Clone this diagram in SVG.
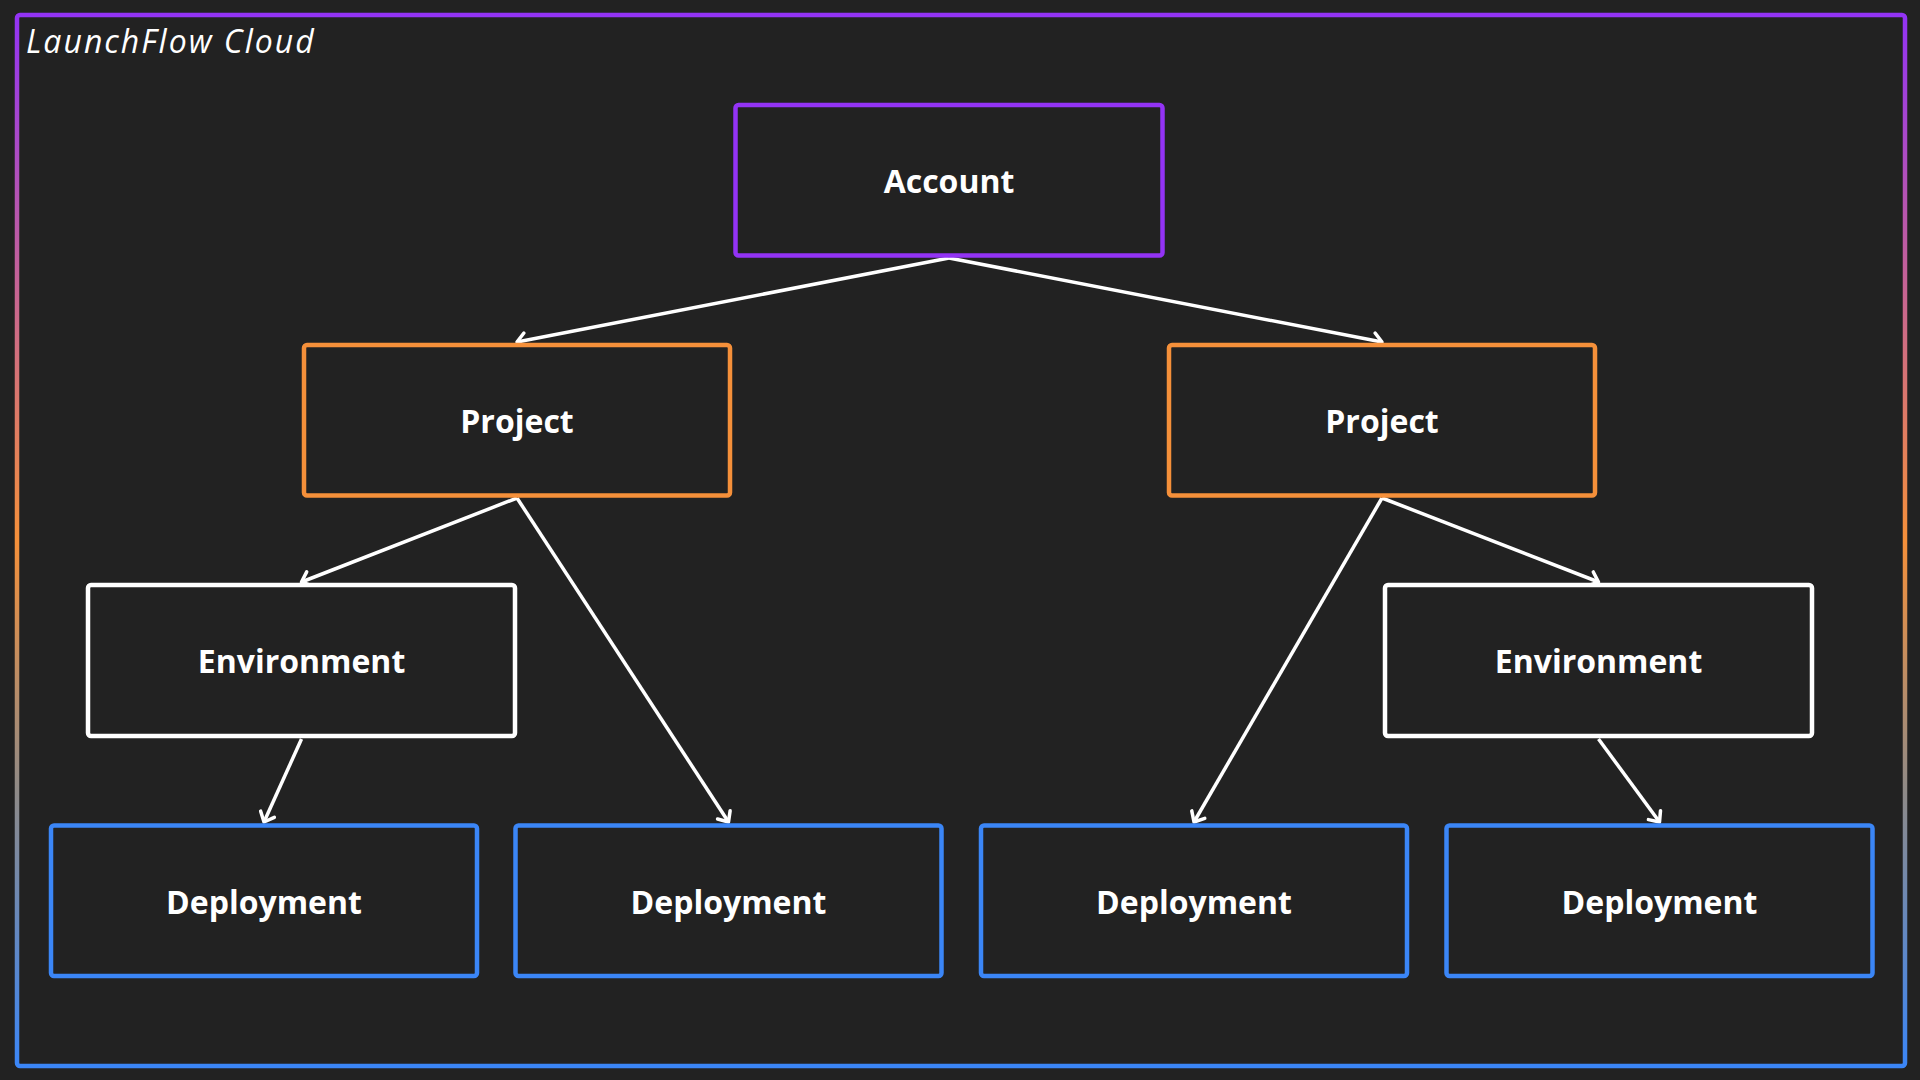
<svg xmlns="http://www.w3.org/2000/svg" width="1920" height="1080" viewBox="0 0 1920 1080">
  <defs>
    <linearGradient id="frameGrad" gradientUnits="userSpaceOnUse" x1="0" y1="15" x2="0" y2="1066">
      <stop offset="0" stop-color="#9333f5"/>
      <stop offset="0.5" stop-color="#f5903a"/>
      <stop offset="0.74" stop-color="#8e8a88"/>
      <stop offset="1" stop-color="#3b86f7"/>
    </linearGradient>
    <marker id="arrow" markerUnits="userSpaceOnUse" markerWidth="24" markerHeight="24" viewBox="-12 -12 24 24" refX="0" refY="0" orient="auto">
      <path d="M -8.5 -7.5 L 0 0 L -8.5 7.5" fill="none" stroke="#ffffff" stroke-width="3.5" stroke-linecap="round" stroke-linejoin="round"/>
    </marker>
  </defs>
  <style>
    .box { fill: #222222; stroke-width: 4.5; }
    .purple { stroke: #9333f5; }
    .orange { stroke: #f5903a; }
    .white { stroke: #ffffff; }
    .blue { stroke: #3b86f7; }
    .label { font-family: "Open Sans", "Liberation Sans", sans-serif; font-weight: 700; font-size: 32px; fill: #ffffff; text-anchor: middle; }
    .title { font-family: "Open Sans", "Liberation Sans", sans-serif; font-style: italic; font-weight: 400; font-size: 32px; letter-spacing: 2px; fill: #ffffff; }
    .conn { stroke: #ffffff; stroke-width: 3.5; fill: none; marker-end: url(#arrow); }
  </style>
  <rect x="0" y="0" width="1920" height="1080" fill="#222222"/>
  <g id="frame">
    <rect x="17" y="15" width="1888" height="1051" rx="3" fill="none" stroke="url(#frameGrad)" stroke-width="4.5"/>
    <text class="title" x="26" y="53">LaunchFlow Cloud</text>
  </g>
  <g id="connectors">
    <line class="conn" x1="949" y1="258" x2="517" y2="342"/>
    <line class="conn" x1="949" y1="258" x2="1382" y2="342"/>
    <line class="conn" x1="517" y1="498" x2="301.5" y2="582"/>
    <line class="conn" x1="517" y1="498" x2="728.5" y2="822"/>
    <line class="conn" x1="1382" y1="498" x2="1194" y2="822"/>
    <line class="conn" x1="1382" y1="498" x2="1598.5" y2="582"/>
    <line class="conn" x1="301.5" y1="739" x2="264" y2="822"/>
    <line class="conn" x1="1598.5" y1="739" x2="1659.5" y2="822"/>
  </g>
  <g id="account">
    <rect class="box purple" x="735.5" y="105" width="427" height="150.5" rx="3"/>
    <text class="label" x="949" y="193">Account</text>
  </g>
  <g id="project-left">
    <rect class="box orange" x="304" y="345" width="426" height="150.5" rx="3"/>
    <text class="label" x="517" y="433">Project</text>
  </g>
  <g id="project-right">
    <rect class="box orange" x="1169" y="345" width="426" height="150.5" rx="3"/>
    <text class="label" x="1382" y="433">Project</text>
  </g>
  <g id="environment-left">
    <rect class="box white" x="88" y="585" width="427" height="151" rx="3"/>
    <text class="label" x="301.5" y="673">Environment</text>
  </g>
  <g id="environment-right">
    <rect class="box white" x="1385" y="585" width="427" height="151" rx="3"/>
    <text class="label" x="1598.5" y="673">Environment</text>
  </g>
  <g id="deployment-1">
    <rect class="box blue" x="51" y="825.5" width="426" height="150.5" rx="3"/>
    <text class="label" x="264" y="914">Deployment</text>
  </g>
  <g id="deployment-2">
    <rect class="box blue" x="515.5" y="825.5" width="426" height="150.5" rx="3"/>
    <text class="label" x="728.5" y="914">Deployment</text>
  </g>
  <g id="deployment-3">
    <rect class="box blue" x="981" y="825.5" width="426" height="150.5" rx="3"/>
    <text class="label" x="1194" y="914">Deployment</text>
  </g>
  <g id="deployment-4">
    <rect class="box blue" x="1446.5" y="825.5" width="426" height="150.5" rx="3"/>
    <text class="label" x="1659.5" y="914">Deployment</text>
  </g>
</svg>
